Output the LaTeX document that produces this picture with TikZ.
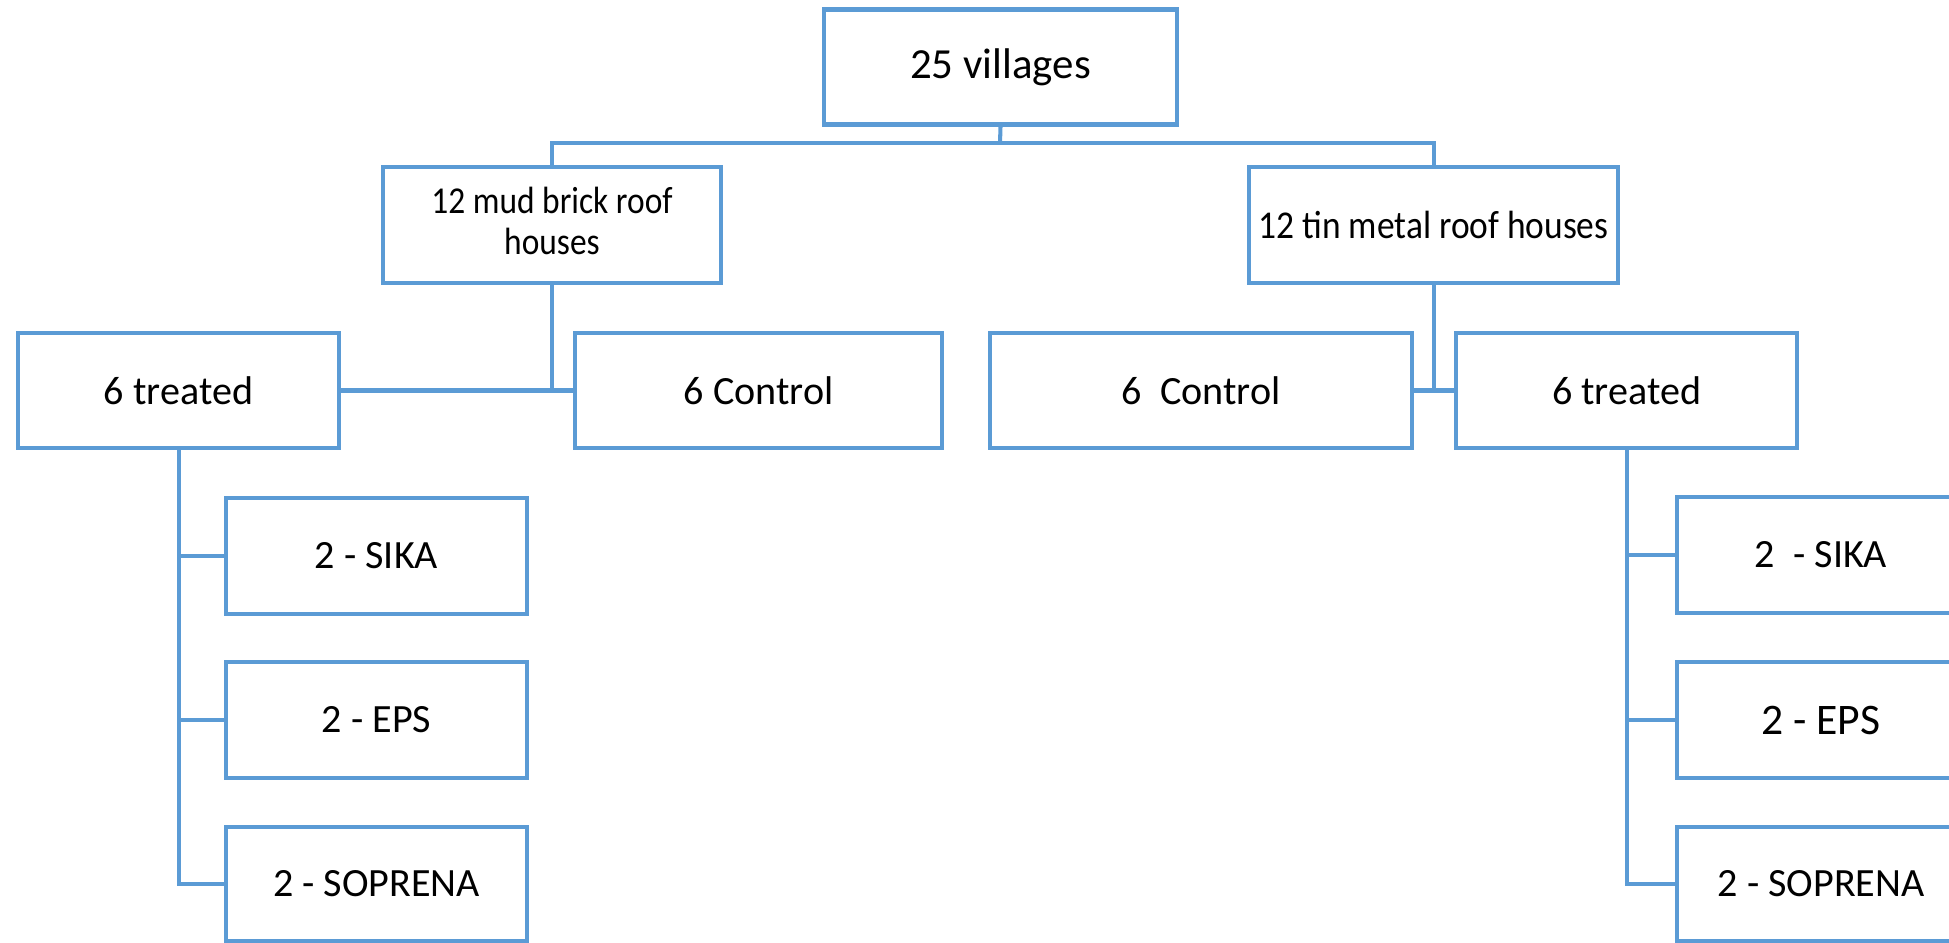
\documentclass[tikz,border=0pt]{standalone}
\usepackage{fontspec}
\setmainfont{Carlito}
\definecolor{obl}{HTML}{5B9BD5}
\begin{document}
\begin{tikzpicture}[x=0.01cm,y=-0.01cm,
  box/.style={draw=obl,line width=1.15pt,rectangle,inner sep=0pt,align=center,
    font=\fontsize{11.4}{12.8}\selectfont,text=black},
  conn/.style={draw=obl,line width=1.15pt}]
\useasboundingbox (0,0) rectangle (1949,943);
\clip (0,0) rectangle (1949,943);
% level 0
\node[box,minimum width=353*0.01cm,minimum height=115*0.01cm,font=\fontsize{12.2}{14}\selectfont] (top) at (1000.5,67) {25 villages};
% level 1
\node[box,minimum width=338*0.01cm,minimum height=116*0.01cm,font=\fontsize{10.8}{12.8}\selectfont] (mud) at (552,225) {\scalebox{0.88}[1]{\begin{tabular}{@{}c@{}}12 mud brick roof\\[-1pt]houses\end{tabular}}};
\node[box,minimum width=369*0.01cm,minimum height=116*0.01cm,font=\fontsize{11.2}{12}\selectfont] (tin) at (1433.5,225) {\scalebox{0.9}[1]{12 tin metal roof houses}};
% level 2
\node[box,minimum width=321*0.01cm,minimum height=115*0.01cm] (lt) at (178.5,390.5) {6 treated};
\node[box,minimum width=367*0.01cm,minimum height=115*0.01cm] (lc) at (758.5,390.5) {6 Control};
\node[box,minimum width=422*0.01cm,minimum height=115*0.01cm] (rc) at (1201,390.5) {6\ \ Control};
\node[box,minimum width=341*0.01cm,minimum height=115*0.01cm] (rt) at (1626.5,390.5) {6 treated};
% level 3 left
\node[box,minimum width=301*0.01cm,minimum height=116*0.01cm] (ls1) at (376.5,556) {2 - SIKA};
\node[box,minimum width=301*0.01cm,minimum height=116*0.01cm] (ls2) at (376.5,720) {2 - EPS};
\node[box,minimum width=301*0.01cm,minimum height=114*0.01cm] (ls3) at (376.5,884) {2 - SOPRENA};
% level 3 right
\node[box,minimum width=288*0.01cm,minimum height=116*0.01cm] (rs1) at (1821,555) {2\ \ - SIKA};
\node[box,minimum width=288*0.01cm,minimum height=116*0.01cm,font=\fontsize{12.4}{14}\selectfont] (rs2) at (1821,720) {2 - EPS};
\node[box,minimum width=288*0.01cm,minimum height=114*0.01cm] (rs3) at (1821,884) {2 - SOPRENA};
% connectors
\coordinate (bar) at (1000,143);
\draw[conn] (top.south) -- (bar);
\draw[conn] (mud.north) |- (bar) -| (tin.north);
\coordinate (lj) at (552,390.5);
\coordinate (rj) at (1433.5,390.5);
\draw[conn] (mud.south) -- (lj);
\draw[conn] (lt.east) -- (lc.west);
\draw[conn] (tin.south) -- (rj);
\draw[conn] (rc.east) -- (rt.west);
\coordinate (lb) at (179,884);
\draw[conn] (lt.south -| lb) -- (lb) -- (ls3.west);
\draw[conn] (ls1.west) -- (ls1.west -| lb);
\draw[conn] (ls2.west) -- (ls2.west -| lb);
\coordinate (rb) at (1627,884);
\draw[conn] (rt.south -| rb) -- (rb) -- (rs3.west);
\draw[conn] (rs1.west) -- (rs1.west -| rb);
\draw[conn] (rs2.west) -- (rs2.west -| rb);
\end{tikzpicture}
\end{document}
